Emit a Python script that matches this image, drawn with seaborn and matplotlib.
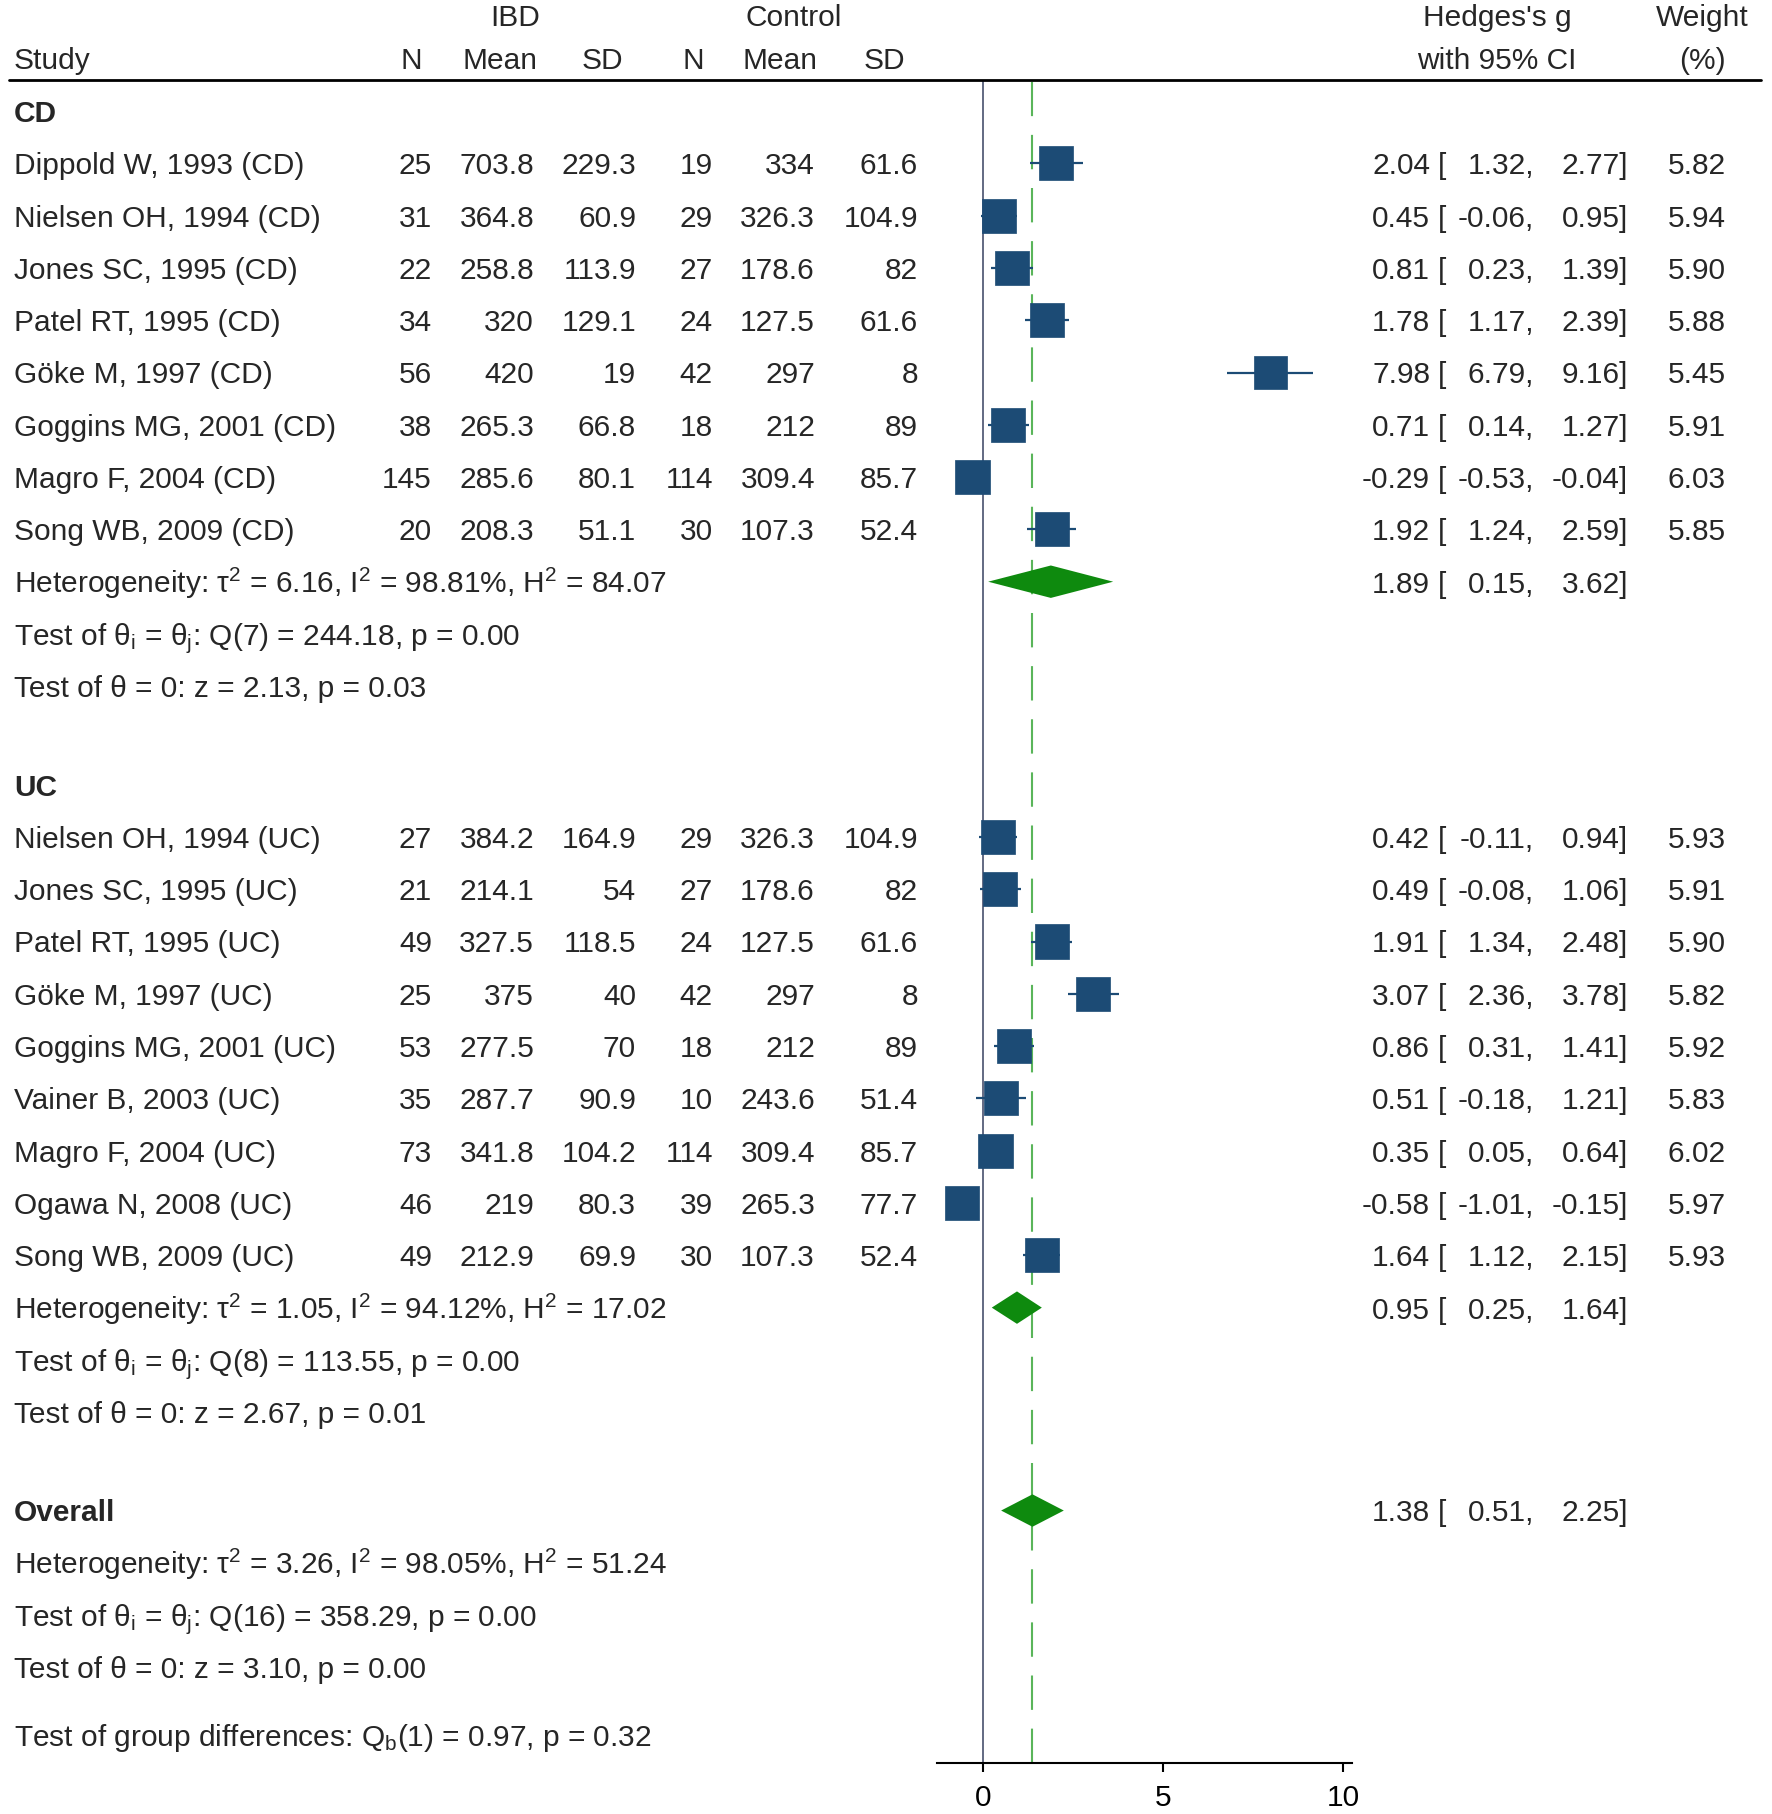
import pandas as pd
import seaborn as sns
import matplotlib.pyplot as plt
from matplotlib import transforms
from matplotlib.lines import Line2D

# ---- data ----
cd_study = ["Dippold W, 1993 (CD)", "Nielsen OH, 1994 (CD)", "Jones SC, 1995 (CD)", "Patel RT, 1995 (CD)",
            "Göke M, 1997 (CD)", "Goggins MG, 2001 (CD)", "Magro F, 2004 (CD)", "Song WB, 2009 (CD)"]
cd_n1 = [25, 31, 22, 34, 56, 38, 145, 20]
cd_mean1 = [703.8, 364.8, 258.8, 320, 420, 265.3, 285.6, 208.3]
cd_sd1 = [229.3, 60.9, 113.9, 129.1, 19, 66.8, 80.1, 51.1]
cd_n2 = [19, 29, 27, 24, 42, 18, 114, 30]
cd_mean2 = [334, 326.3, 178.6, 127.5, 297, 212, 309.4, 107.3]
cd_sd2 = [61.6, 104.9, 82, 61.6, 8, 89, 85.7, 52.4]
cd_g = [2.04, 0.45, 0.81, 1.78, 7.98, 0.71, -0.29, 1.92]
cd_lo = [1.32, -0.06, 0.23, 1.17, 6.79, 0.14, -0.53, 1.24]
cd_hi = [2.77, 0.95, 1.39, 2.39, 9.16, 1.27, -0.04, 2.59]
cd_w = [5.82, 5.94, 5.90, 5.88, 5.45, 5.91, 6.03, 5.85]
cd_sum = [1.89, 0.15, 3.62]
cd_stats = ["Heterogeneity: τ$^2$ = 6.16, I$^2$ = 98.81%, H$^2$ = 84.07",
            "Test of θ$_\\mathrm{i}$ = θ$_\\mathrm{j}$: Q(7) = 244.18, p = 0.00",
            "Test of θ = 0: z = 2.13, p = 0.03"]

uc_study = ["Nielsen OH, 1994 (UC)", "Jones SC, 1995 (UC)", "Patel RT, 1995 (UC)", "Göke M, 1997 (UC)",
            "Goggins MG, 2001 (UC)", "Vainer B, 2003 (UC)", "Magro F, 2004 (UC)", "Ogawa N, 2008 (UC)",
            "Song WB, 2009 (UC)"]
uc_n1 = [27, 21, 49, 25, 53, 35, 73, 46, 49]
uc_mean1 = [384.2, 214.1, 327.5, 375, 277.5, 287.7, 341.8, 219, 212.9]
uc_sd1 = [164.9, 54, 118.5, 40, 70, 90.9, 104.2, 80.3, 69.9]
uc_n2 = [29, 27, 24, 42, 18, 10, 114, 39, 30]
uc_mean2 = [326.3, 178.6, 127.5, 297, 212, 243.6, 309.4, 265.3, 107.3]
uc_sd2 = [104.9, 82, 61.6, 8, 89, 51.4, 85.7, 77.7, 52.4]
uc_g = [0.42, 0.49, 1.91, 3.07, 0.86, 0.51, 0.35, -0.58, 1.64]
uc_lo = [-0.11, -0.08, 1.34, 2.36, 0.31, -0.18, 0.05, -1.01, 1.12]
uc_hi = [0.94, 1.06, 2.48, 3.78, 1.41, 1.21, 0.64, -0.15, 2.15]
uc_w = [5.93, 5.91, 5.90, 5.82, 5.92, 5.83, 6.02, 5.97, 5.93]
uc_sum = [0.95, 0.25, 1.64]
uc_stats = ["Heterogeneity: τ$^2$ = 1.05, I$^2$ = 94.12%, H$^2$ = 17.02",
            "Test of θ$_\\mathrm{i}$ = θ$_\\mathrm{j}$: Q(8) = 113.55, p = 0.00",
            "Test of θ = 0: z = 2.67, p = 0.01"]

overall_sum = [1.38, 0.51, 2.25]
overall_stats = ["Heterogeneity: τ$^2$ = 3.26, I$^2$ = 98.05%, H$^2$ = 51.24",
                 "Test of θ$_\\mathrm{i}$ = θ$_\\mathrm{j}$: Q(16) = 358.29, p = 0.00",
                 "Test of θ = 0: z = 3.10, p = 0.00"]
group_test = "Test of group differences: Q$_\\mathrm{b}$(1) = 0.97, p = 0.32"

# ---- styling ----
W, H = 1772, 1815
FS = 21.5
NAVY = "#1c4b75"
GREEN = "#0e8a0e"
DASH_GREEN = "#5ab55a"
STEP = 52.3        # pixels per row
Y0 = 112           # pixel position of first row
BASE = 0.19        # baseline offset (rows)
GAP = 1.88

sns.set_style("white")
plt.rcParams["font.family"] = ["Liberation Sans", "DejaVu Sans"]
plt.rcParams["mathtext.fontset"] = "custom"
plt.rcParams["mathtext.rm"] = "Liberation Sans"
plt.rcParams["mathtext.it"] = "Liberation Sans:italic"
plt.rcParams["mathtext.bf"] = "Liberation Sans:bold"

fig = plt.figure(figsize=(W / 100, H / 100), dpi=100)
ax = fig.add_axes([937 / W, 1 - 1764 / H, (1352 - 937) / W, (1764 - 81) / H])
tr = transforms.blended_transform_factory(fig.transFigure, ax.transData)


def put(x, y, s, ha="left", **kw):
    fig.text(x / W, y + BASE, s, transform=tr, ha=ha, va="baseline", fontsize=FS, **kw)


def effect_text(y, est, lo, hi, w=None):
    put(1430, y, f"{est:.2f}", ha="right")
    put(1438, y, "[")
    put(1534, y, f"{lo:.2f},", ha="right")
    put(1628, y, f"{hi:.2f}]", ha="right")
    if w is not None:
        put(1726, y, f"{w:.2f}", ha="right")


def diamond(y, est, lo, hi):
    ax.fill([lo, est, hi, est], [y, y - 0.31, y, y + 0.31], color=GREEN, lw=0, zorder=4)


frames = []
y = 0.0
sections = [
    ("CD", cd_study, cd_n1, cd_mean1, cd_sd1, cd_n2, cd_mean2, cd_sd2, cd_g, cd_lo, cd_hi, cd_w, cd_sum, cd_stats),
    ("UC", uc_study, uc_n1, uc_mean1, uc_sd1, uc_n2, uc_mean2, uc_sd2, uc_g, uc_lo, uc_hi, uc_w, uc_sum, uc_stats),
]
for label, study, n1, m1, s1, n2, m2, s2, g, lo, hi, w, summ, stats in sections:
    put(14, y, label, fontweight="bold")
    ys = []
    for i in range(len(study)):
        y += 1
        ys.append(y)
        put(14, y, study[i])
        put(432, y, f"{n1[i]:g}", ha="right")
        put(534, y, f"{m1[i]:g}", ha="right")
        put(636, y, f"{s1[i]:g}", ha="right")
        put(713, y, f"{n2[i]:g}", ha="right")
        put(815, y, f"{m2[i]:g}", ha="right")
        put(918, y, f"{s2[i]:g}", ha="right")
        effect_text(y, g[i], lo[i], hi[i], w[i])
    frames.append(pd.DataFrame({"y": ys, "g": g, "lo": lo, "hi": hi, "w": w}))
    y += 1
    put(14, y, stats[0])
    diamond(y, *summ)
    effect_text(y, *summ)
    y += 1
    put(14, y, stats[1])
    y += 1
    put(14, y, stats[2])
    y += GAP

put(14, y, "Overall", fontweight="bold")
diamond(y, *overall_sum)
effect_text(y, *overall_sum)
for s in overall_stats:
    y += 1
    put(14, y, s)
y += 1.3
put(14, y, group_test)

df = pd.concat(frames, ignore_index=True)
ax.hlines(df["y"], df["lo"], df["hi"], color=NAVY, lw=1.6, zorder=2)
K = 102
sns.scatterplot(data=df, x="g", y="y", size="w", sizes=(df["w"].min() * K, df["w"].max() * K),
                size_norm=(df["w"].min(), df["w"].max()), marker="s", color=NAVY,
                edgecolor=NAVY, linewidth=0.5, legend=False, ax=ax, zorder=3)

ax.axvline(0, color="#565e78", lw=1.3, zorder=1)
ax.axvline(overall_sum[0], color=DASH_GREEN, lw=1.5, ls=(0, (16.5, 9)), zorder=1)

ax.set_xlim(-1.27, 10.25)
ax.set_ylim((1764 - Y0) / STEP, (81 - Y0) / STEP)
ax.set_xticks([0, 5, 10])
ax.set_yticks([])
ax.set_xlabel("")
ax.set_ylabel("")
for side in ["left", "top", "right"]:
    ax.spines[side].set_visible(False)
ax.spines["bottom"].set_linewidth(1.5)
ax.spines["bottom"].set_color("black")
ax.tick_params(axis="x", length=6.5, width=1.5, pad=8, labelsize=FS, colors="black", bottom=True)
ax.set_facecolor("none")

# header
def head(x, ypx, s, ha="center"):
    fig.text(x / W, 1 - ypx / H, s, ha=ha, va="baseline", fontsize=FS)

head(515, 26, "IBD")
head(794, 26, "Control")
head(1497, 26, "Hedges's g")
head(1702, 26, "Weight")
head(14, 69, "Study", ha="left")
for xc, s in zip([411, 500, 602, 693, 780, 884, 1497, 1702],
                 ["N", "Mean", "SD", "N", "Mean", "SD", "with 95% CI", "(%)"]):
    head(xc, 69, s)
fig.add_artist(Line2D([9 / W, 1761 / W], [1 - 81 / H, 1 - 81 / H], color="black", lw=2))

fig.savefig("out.png", dpi=100)
